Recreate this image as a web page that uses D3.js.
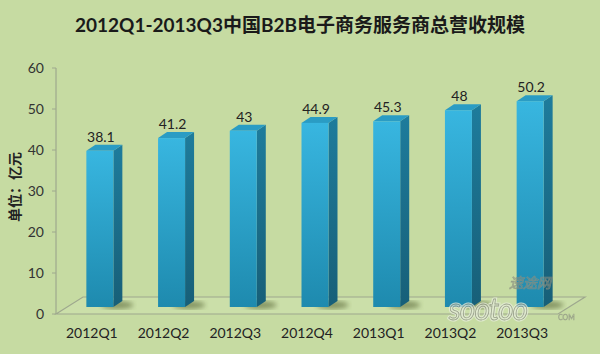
<!DOCTYPE html>
<html>
<head>
<meta charset="utf-8">
<script src="https://cdn.jsdelivr.net/npm/d3@7"></script>
<style>
  html, body { margin: 0; padding: 0; background: #C6DBA2; }
  svg { display: block; }
</style>
</head>
<body>
<svg id="chart" width="600" height="354"></svg>
<script>
// 2012Q1-2013Q3 中国B2B电子商务服务商总营收规模（柱状图，伪3D）

const quarters = ['2012Q1', '2012Q2', '2012Q3', '2012Q4', '2013Q1', '2013Q2', '2013Q3'];
const revenue = [38.1, 41.2, 43, 44.9, 45.3, 48, 50.2];
const yTicks = [0, 10, 20, 30, 40, 50, 60];

const W = 600, H = 354;
const BG = '#C6DBA2';
const svg = d3.select('#chart');

svg.append('rect').attr('width', W).attr('height', H).attr('fill', BG);

const x = d3.scaleBand().domain(quarters).range([56, 558]);
const y = d3.scaleLinear().domain([0, 60]).range([314, 68]);

// profundidad del piso y de las barras
const FLOOR_DX = 27, FLOOR_DY = -17;
const BAR_OX = 8, BAR_OY = -7;      // cara frontal de la barra dentro del piso
const SIDE_DX = 9, SIDE_DY = -6;    // grosor lateral / tapa
const BW = 27;

const defs = svg.append('defs');
const gFront = defs.append('linearGradient').attr('id', 'gFront')
  .attr('x1', 0).attr('y1', 0).attr('x2', 0).attr('y2', 1);
gFront.append('stop').attr('offset', '0%').attr('stop-color', '#38B6E0');
gFront.append('stop').attr('offset', '100%').attr('stop-color', '#1E8AAE');
const gSide = defs.append('linearGradient').attr('id', 'gSide')
  .attr('x1', 0).attr('y1', 0).attr('x2', 0).attr('y2', 1);
gSide.append('stop').attr('offset', '0%').attr('stop-color', '#1E7C9C');
gSide.append('stop').attr('offset', '100%').attr('stop-color', '#175F78');
defs.append('filter').attr('id', 'blur').append('feGaussianBlur').attr('stdDeviation', 2.5);

// título
svg.append('text')
  .attr('x', 300).attr('y', 32)
  .attr('text-anchor', 'middle')
  .attr('font-family', 'Lato, "Noto Sans CJK SC", sans-serif')
  .attr('font-weight', 700)
  .style('font-size', '19px')
  .attr('fill', '#1A1A1A')
  .text('2012Q1-2013Q3中国B2B电子商务服务商总营收规模');

// piso
const x0 = x.range()[0], x1 = x.range()[1], y0 = y(0);
svg.append('path')
  .attr('d', `M${x0},${y0} L${x0 + FLOOR_DX},${y0 + FLOOR_DY} L${x1 + FLOOR_DX},${y0 + FLOOR_DY} L${x1},${y0} Z`)
  .attr('fill', '#CBDFA9')
  .attr('stroke', '#9EA88E').attr('stroke-width', 1.2);

// eje Y
svg.append('line')
  .attr('x1', x0).attr('x2', x0).attr('y1', y(60)).attr('y2', y0)
  .attr('stroke', '#9EA88E').attr('stroke-width', 1.2);
const gTicks = svg.append('g');
gTicks.selectAll('line').data(yTicks).join('line')
  .attr('x1', x0 - 4).attr('x2', x0).attr('y1', d => y(d)).attr('y2', d => y(d))
  .attr('stroke', '#9EA88E');
gTicks.selectAll('text').data(yTicks).join('text')
  .attr('x', 44).attr('y', d => y(d) + 5)
  .attr('text-anchor', 'end')
  .attr('font-family', 'Lato, sans-serif')
  .style('font-size', '14px').attr('fill', '#333')
  .text(d => d);

svg.append('text')
  .attr('transform', 'translate(20,187) rotate(-90)')
  .attr('text-anchor', 'middle')
  .attr('font-family', '"Noto Sans CJK SC", sans-serif')
  .attr('font-weight', 700)
  .style('font-size', '14px').attr('fill', '#222')
  .text('单位：亿元');

// barras
const bars = svg.append('g').selectAll('g').data(quarters).join('g');
const bx = q => x(q) + (x.bandwidth() - BW) / 2 + BAR_OX;
const baseY = y0 + BAR_OY;
const topY = (q, i) => y(revenue[i]) + BAR_OY;

bars.append('ellipse')
  .attr('cx', q => bx(q) + BW + 4).attr('cy', baseY - 2)
  .attr('rx', 16).attr('ry', 4)
  .attr('fill', '#4E5A2A').attr('opacity', 0.55)
  .attr('filter', 'url(#blur)');

bars.append('path')
  .attr('d', (q, i) => {
    const l = bx(q) + BW, t = topY(q, i);
    return `M${l},${t} L${l + SIDE_DX},${t + SIDE_DY} L${l + SIDE_DX},${baseY + SIDE_DY} L${l},${baseY} Z`;
  })
  .attr('fill', 'url(#gSide)');
bars.append('path')
  .attr('d', (q, i) => {
    const l = bx(q), t = topY(q, i);
    return `M${l},${t} L${l + SIDE_DX},${t + SIDE_DY} L${l + BW + SIDE_DX},${t + SIDE_DY} L${l + BW},${t} Z`;
  })
  .attr('fill', '#2A9CC4');
bars.append('rect')
  .attr('x', q => bx(q)).attr('y', (q, i) => topY(q, i))
  .attr('width', BW).attr('height', (q, i) => baseY - topY(q, i))
  .attr('fill', 'url(#gFront)');

// etiquetas de valor
bars.append('text')
  .attr('x', q => bx(q) + BW / 2 + 1)
  .attr('y', (q, i) => topY(q, i) + SIDE_DY - 3)
  .attr('text-anchor', 'middle')
  .attr('font-family', 'Lato, sans-serif')
  .style('font-size', '14px').attr('fill', '#222')
  .text((q, i) => revenue[i]);

// etiquetas del eje X
svg.append('g').selectAll('text').data(quarters).join('text')
  .attr('x', q => x(q) + x.bandwidth() / 2)
  .attr('y', 338)
  .attr('text-anchor', 'middle')
  .attr('font-family', 'Lato, sans-serif')
  .style('font-size', '14px').attr('fill', '#222')
  .text(q => q);

// marca de agua
const wm = svg.append('g').attr('opacity', 0.75).attr('pointer-events', 'none');
wm.append('text')
  .attr('x', 530).attr('y', 288).attr('text-anchor', 'middle')
  .attr('font-family', '"Noto Sans CJK SC", sans-serif')
  .attr('font-style', 'italic')
  .style('font-size', '14px')
  .attr('fill', 'none').attr('stroke', '#8A8F80').attr('stroke-width', 0.8)
  .text('速途网');
['#E8EEDD', '#8A8F80'].forEach((c, k) => {
  wm.append('text')
    .attr('x', 488).attr('y', 320).attr('text-anchor', 'middle')
    .attr('font-family', 'Lato, sans-serif')
    .attr('font-style', 'italic')
    .style('font-size', '30px').style('letter-spacing', '-1px')
    .attr('fill', 'none').attr('stroke', c).attr('stroke-width', k ? 0.8 : 3)
    .text('sootoo');
});
wm.append('text')
  .attr('x', 558).attr('y', 320)
  .attr('font-family', 'Lato, sans-serif')
  .style('font-size', '7px')
  .attr('fill', 'none').attr('stroke', '#8A8F80').attr('stroke-width', 0.5)
  .text('COM');
</script>
</body>
</html>
